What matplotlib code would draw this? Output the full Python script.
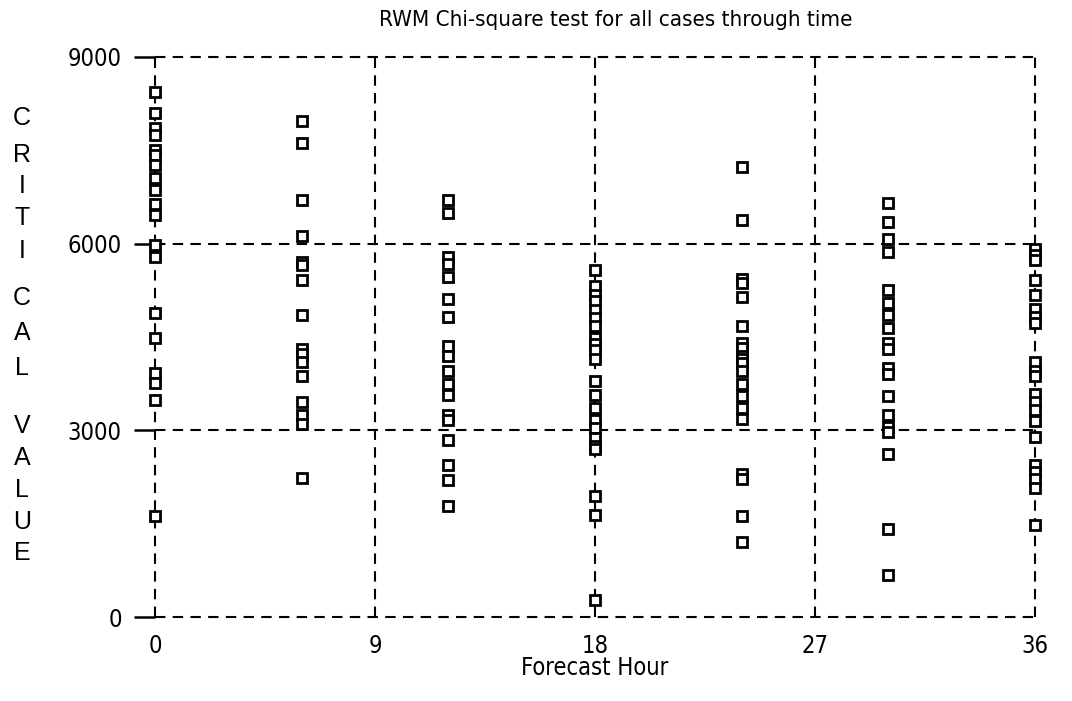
import matplotlib
matplotlib.use("Agg")
import matplotlib.pyplot as plt

# Critical values, one list per forecast hour
hour_00 = [8440, 8100, 7860, 7750, 7500, 7420, 7260, 7050, 6860, 6640, 6460,
           5980, 5790, 4890, 4480, 3920, 3760, 3490, 1620]
hour_06 = [7970, 7620, 6700, 6120, 5700, 5660, 5420, 4850, 4300, 4230, 4100,
           3870, 3450, 3250, 3100, 2230]
hour_12 = [6700, 6500, 5780, 5680, 5460, 5110, 4820, 4350, 4190, 3950, 3740,
           3560, 3250, 3160, 2850, 2440, 2200, 1780]
hour_18 = [5570, 5320, 5180, 5080, 4930, 4800, 4680, 4480, 4380, 4290, 4150,
           3800, 3570, 3360, 3170, 3040, 2880, 2750, 2700, 1940, 1640, 280]
hour_24 = [7230, 6380, 5440, 5360, 5150, 4680, 4400, 4330, 4200, 4150, 4080,
           3950, 3750, 3550, 3360, 3180, 2300, 2220, 1620, 1200]
hour_30 = [6650, 6350, 6080, 5870, 5250, 5050, 4850, 4650, 4400, 4300, 4000,
           3900, 3550, 3250, 3050, 2980, 2620, 1420, 680]
hour_36 = [5920, 5810, 5730, 5410, 5170, 4950, 4820, 4720, 4100, 3950, 3880,
           3580, 3450, 3330, 3150, 2900, 2450, 2330, 2220, 2080, 1480]

forecast_hours = [0, 6, 12, 18, 24, 30, 36]
series = [hour_00, hour_06, hour_12, hour_18, hour_24, hour_30, hour_36]

x_ticks = [0, 9, 18, 27, 36]
y_ticks = [0, 3000, 6000, 9000]

narrow = dict(family="DejaVu Sans", stretch="condensed")

fig = plt.figure(figsize=(10.72, 7.01), dpi=100)
ax = fig.add_axes([0.1446, 0.1198, 0.8209, 0.7989])

for h, vals in zip(forecast_hours, series):
    ax.plot([h] * len(vals), vals, linestyle="none", marker="s", ms=6.5,
            mfc="white", mec="black", mew=2, clip_on=False, zorder=3)

ax.set_xlim(0, 36)
ax.set_ylim(0, 9000)
ax.set_xticks(x_ticks)
ax.set_yticks(y_ticks)
ax.grid(True, color="black", linestyle=(0, (5, 3.5)), linewidth=1.5)
for gl in ax.get_xgridlines() + ax.get_ygridlines():
    gl.set_clip_on(False)
for s in ax.spines.values():
    s.set_visible(False)

ax.tick_params(axis="x", length=0, pad=12, labelsize=17)
ax.tick_params(axis="y", length=15, width=1.8, pad=9, labelsize=17)
for lbl in ax.get_xticklabels() + ax.get_yticklabels():
    lbl.set_family(narrow["family"])
    lbl.set_stretch(narrow["stretch"])

ax.set_title("RWM Chi-square test for all cases through time",
             fontsize=16, pad=22, x=0.523, **narrow)
ax.set_xlabel("Forecast Hour", fontsize=17, labelpad=-1, **narrow)

# vertical stacked y label
letters = "CRITICALVALUE"
letter_y = [118, 155, 186, 218, 251, 298, 333, 368, 426, 458, 490, 522, 553]
for ch, yp in zip(letters, letter_y):
    fig.text(22 / 1072, 1 - yp / 701, ch, ha="center", va="center",
             fontsize=18, family=["Liberation Sans", "DejaVu Sans"])

fig.savefig("out.png", dpi=100)
